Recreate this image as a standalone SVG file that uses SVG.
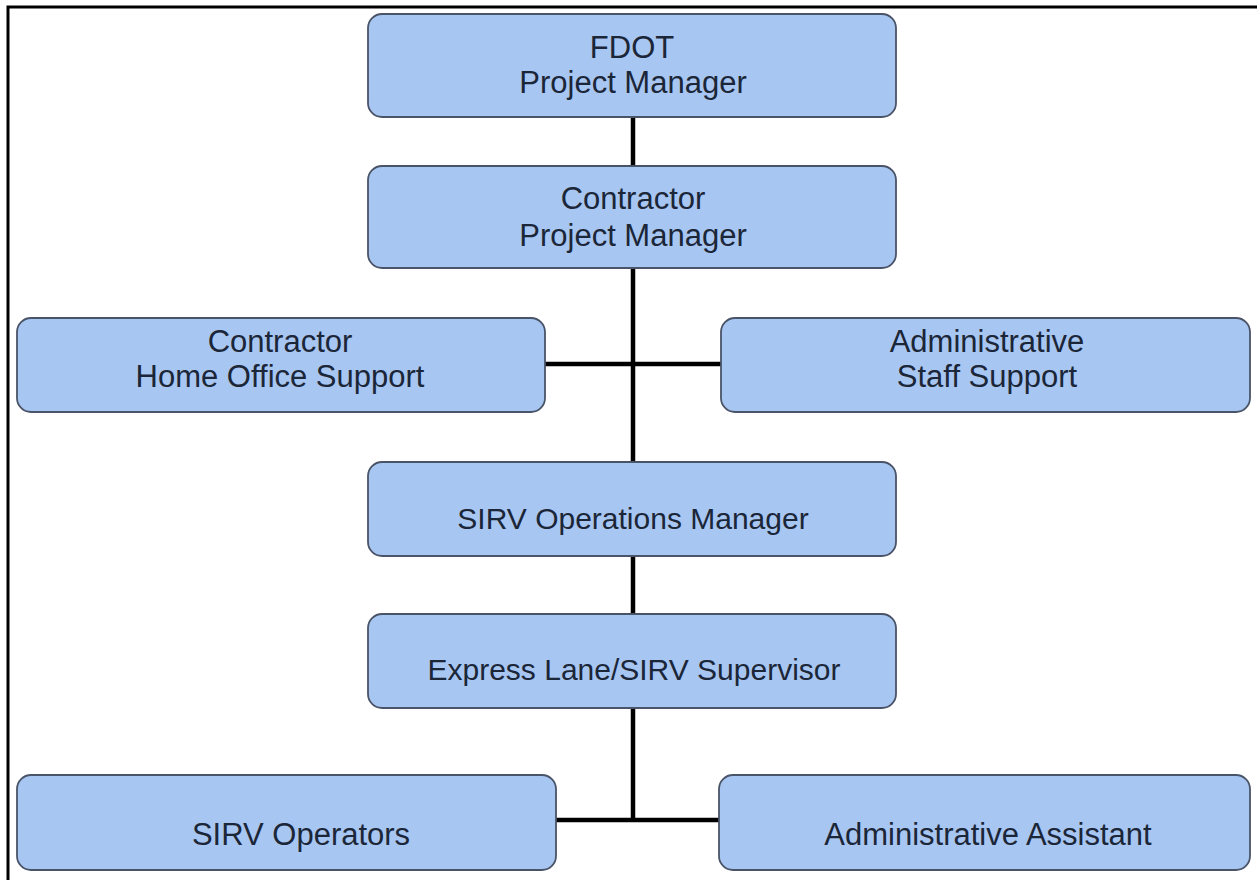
<svg xmlns="http://www.w3.org/2000/svg" width="1257" height="880" viewBox="0 0 1257 880">
<style>
.box{fill:#a8c6f2;stroke:#4a5468;stroke-width:1.8}
.t{font-family:"Liberation Sans",Arial,sans-serif;font-size:31px;fill:#1b2638;text-anchor:middle}
.s{font-size:30px}
.c{stroke:#000;stroke-width:4.5;fill:none}
</style>
<rect width="1257" height="880" fill="#ffffff"/>
<path d="M8,880 V7 H1257" fill="none" stroke="#000" stroke-width="3"/>
<g id="connectors">
<line class="c" x1="633" y1="117" x2="633" y2="166"/>
<line class="c" x1="633" y1="268" x2="633" y2="462"/>
<line class="c" x1="545" y1="364" x2="721" y2="364"/>
<line class="c" x1="633" y1="556" x2="633" y2="614"/>
<line class="c" x1="633" y1="708" x2="633" y2="820"/>
<line class="c" x1="556" y1="820" x2="719" y2="820"/>
</g>
<g id="fdot-pm">
<rect class="box" x="368" y="14" width="528" height="103" rx="14"/>
<text class="t" x="632" y="58">FDOT</text>
<text class="t" x="633" y="93">Project Manager</text>
</g>
<g id="contractor-pm">
<rect class="box" x="368" y="166" width="528" height="102" rx="14"/>
<text class="t" x="633" y="209">Contractor</text>
<text class="t" x="633" y="246">Project Manager</text>
</g>
<g id="home-office">
<rect class="box" x="17" y="318" width="528" height="94" rx="14"/>
<text class="t" x="280" y="352">Contractor</text>
<text class="t" x="280" y="387">Home Office Support</text>
</g>
<g id="admin-staff">
<rect class="box" x="721" y="318" width="529" height="94" rx="14"/>
<text class="t" x="987" y="352">Administrative</text>
<text class="t" x="987" y="387">Staff Support</text>
</g>
<g id="sirv-ops-mgr">
<rect class="box" x="368" y="462" width="528" height="94" rx="14"/>
<text class="t s" x="633" y="529">SIRV Operations Manager</text>
</g>
<g id="express-lane">
<rect class="box" x="368" y="614" width="528" height="94" rx="14"/>
<text class="t s" x="634" y="680">Express Lane/SIRV Supervisor</text>
</g>
<g id="sirv-operators">
<rect class="box" x="17" y="775" width="539" height="95" rx="14"/>
<text class="t" x="301" y="845">SIRV Operators</text>
</g>
<g id="admin-assistant">
<rect class="box" x="719" y="775" width="531" height="95" rx="14"/>
<text class="t" x="988" y="845">Administrative Assistant</text>
</g>
</svg>
